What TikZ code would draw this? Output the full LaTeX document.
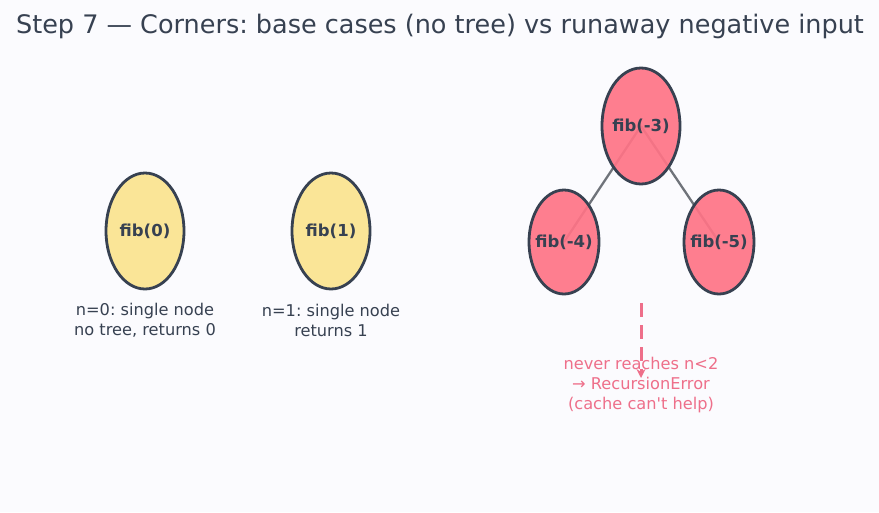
\documentclass[tikz,border=0pt]{standalone}
\usepackage{fontspec}
\setmainfont{DejaVu Sans}
\frenchspacing
\definecolor{Ink}{HTML}{374151}
\definecolor{Paper}{HTML}{FBFBFE}
\definecolor{Butter}{HTML}{FAE48F}
\definecolor{Rose}{HTML}{FF7486}
\definecolor{RoseText}{HTML}{EE6F8A}
\definecolor{Slate}{HTML}{6F737A}
\usetikzlibrary{arrows.meta, shapes.geometric, positioning, backgrounds}
\newcommand{\calltext}[1]{\makebox[0pt]{#1}}

\begin{document}
\begin{tikzpicture}[x=1pt, y=-1pt,
    every node/.style={font=\fontsize{16.2}{20}\selectfont, align=center, text=Ink},
    callnode/.style={ellipse, draw=Ink, line width=2.8pt, inner sep=0pt,
        fill opacity=0.92, text opacity=1, font=\fontsize{16.5}{20}\selectfont\bfseries},
    basecall/.style={callnode, fill=Butter, minimum width=78, minimum height=116},
    rootcall/.style={callnode, fill=Rose, minimum width=78, minimum height=116},
    leafcall/.style={callnode, fill=Rose, minimum width=70, minimum height=104}
]
\useasboundingbox (0,0) rectangle (879,512);
% Title
\node[font=\fontsize{25.5}{30}\selectfont] (title) at (440,26)
    {Step 7 — Corners: base cases (no tree) vs runaway negative input};
% Base cases
\foreach \x/\n/\note in {145/0/{n=0: single node\\no tree, returns 0}, 331/1/{n=1: single node\\returns 1}} {
    \node[basecall] (base\n) at (\x,231) {\calltext{fib(\n)}};
    \node (note\n) at (\x,320) {\note};
}
% Negative input
\node[rootcall] (neg3) at (641,126) {\calltext{fib(-3)}};
\node[leafcall] (neg4) at (564,242) {\calltext{fib(-4)}};
\node[leafcall] (neg5) at (719,242) {\calltext{fib(-5)}};
\begin{scope}[on background layer]
    \fill[Paper] (0,0) rectangle (879,512);
    \draw[Slate, line width=2.3pt] (neg3.center) -- (neg4.center);
    \draw[Slate, line width=2.3pt] (neg3.center) -- (neg5.center);
\end{scope}
\coordinate (runaway) at (641,303);
\coordinate (crash) at (641,378);
\draw[RoseText, line width=3pt, dash pattern=on 14pt off 8pt,
    -{Stealth[length=9pt, width=9pt]}] (runaway) -- (crash);
\node[text=RoseText] (error) at (641,385)
    {never reaches n<2\\→ RecursionError\\(cache can\textquotesingle t help)};
\end{tikzpicture}
\end{document}
